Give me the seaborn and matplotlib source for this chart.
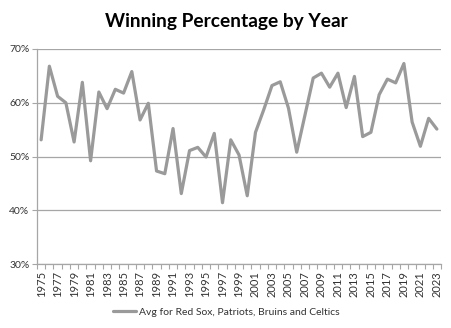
import numpy as np
import pandas as pd
import matplotlib
matplotlib.use("Agg")
import matplotlib.pyplot as plt
import seaborn as sns
from matplotlib.ticker import FuncFormatter, FixedLocator

years = list(range(1975, 2024))
win_pct = [53.1, 66.8, 61.2, 60.0, 52.7, 63.8, 49.2, 62.0, 58.9, 62.5,
           61.8, 65.8, 56.8, 59.9, 47.3, 46.8, 55.2, 43.1, 51.1, 51.7,
           49.9, 54.3, 41.4, 53.1, 50.3, 42.7, 54.5, 58.7, 63.2, 63.9,
           59.0, 50.8, 57.7, 64.6, 65.5, 62.9, 65.5, 59.1, 64.9, 53.7,
           54.5, 61.5, 64.4, 63.7, 67.3, 56.4, 51.9, 57.1, 55.1]
series_name = "Avg for Red Sox, Patriots, Bruins and Celtics"
title = "Winning Percentage by Year"

df = pd.DataFrame({"Year": years, "Pct": np.array(win_pct) / 100.0})

sns.set_theme(style="white")
plt.rcParams['font.family'] = ['Lato', 'DejaVu Sans']

fig = plt.figure(figsize=(4.52, 3.28), dpi=100)
ax = fig.add_axes([37/452, 1-264/328, (441-37)/452, (264-49)/328])

sns.lineplot(data=df, x="Year", y="Pct", ax=ax, color="#9a9a9a", linewidth=2.3,
             label=series_name, legend=False)

ax.set_xlim(1974.5, 2023.5)
ax.set_ylim(0.30, 0.70)
ax.set_yticks([0.3, 0.4, 0.5, 0.6, 0.7])
ax.yaxis.set_major_formatter(FuncFormatter(lambda v, p: f"{v*100:.0f}%"))
ax.grid(axis="y", color="#a6a6a6", linewidth=0.9)
ax.set_axisbelow(True)

ax.xaxis.set_major_locator(FixedLocator(years[::2]))
ax.set_xticklabels([str(y) for y in years[::2]], rotation=90)
ax.xaxis.set_minor_locator(FixedLocator([y - 0.5 for y in years] + [years[-1] + 0.5]))
ax.tick_params(axis="x", which="major", length=0, labelsize=8, pad=5, colors="#333333")
ax.tick_params(axis="x", which="minor", length=3.5, width=0.8, color="#a6a6a6", bottom=True)
ax.tick_params(axis="y", which="major", length=3.5, width=0.8, color="#a6a6a6",
               labelsize=7.5, left=True, pad=2, labelcolor="#333333")

for s in ["top", "right"]:
    ax.spines[s].set_visible(False)
for s in ["left", "bottom"]:
    ax.spines[s].set_color("#a6a6a6")
    ax.spines[s].set_linewidth(0.9)

ax.set_xlabel("")
ax.set_ylabel("")

fig.text(226/452, 1-22/328, title, ha="center", va="center", fontsize=13.8, fontweight="bold",
         color="black")

handles, labels = ax.get_legend_handles_labels()
fig.legend(handles, labels, loc="center", bbox_to_anchor=(226/452, 1-312/328), frameon=False,
           fontsize=7.5, handlelength=2.2, handletextpad=0.3, labelcolor="#333333")

fig.savefig("out.png", dpi=100)
